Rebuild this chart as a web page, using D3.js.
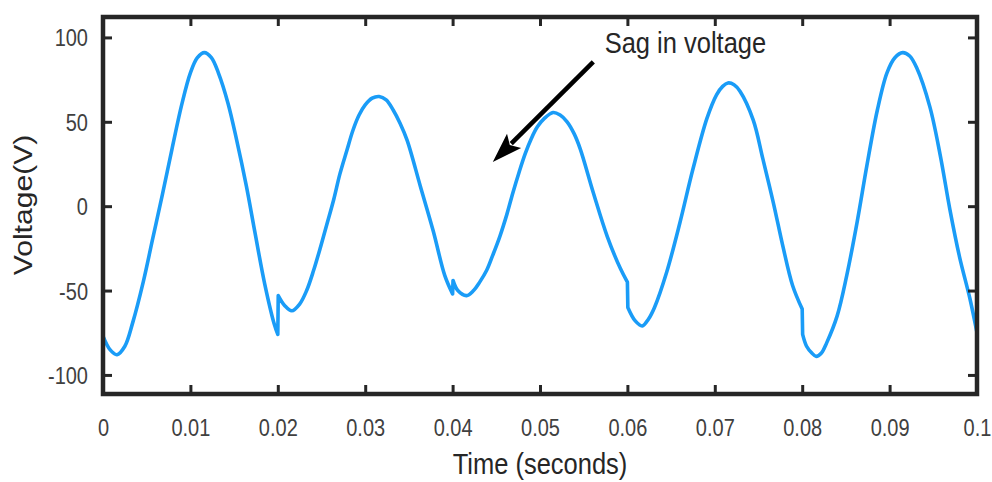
<!DOCTYPE html>
<html>
<head>
<meta charset="utf-8">
<script src="https://cdn.jsdelivr.net/npm/d3@7"></script>
<style>
  html, body { margin: 0; padding: 0; background: #fff; }
  svg { display: block; }
</style>
</head>
<body>
<svg id="chart" width="992" height="482"></svg>
<script>
// ---- data ----
const time = [
  0.0000, 0.0008, 0.0016, 0.0025, 0.0034, 0.0046, 0.0057, 0.0068, 0.0079, 0.0090,
  0.0100, 0.0108, 0.0116, 0.0124, 0.0132, 0.0143, 0.0153, 0.0164, 0.0174, 0.0185,
  0.0196, 0.0200,
  0.02005, 0.0208, 0.0216, 0.0225, 0.0233, 0.0241, 0.0249, 0.0256, 0.0264, 0.0271,
  0.0279, 0.0286, 0.0293, 0.0300, 0.0308, 0.0316, 0.0324, 0.0332, 0.0340, 0.0348,
  0.0363, 0.0378, 0.0391, 0.0400,
  0.04005, 0.0406, 0.0416, 0.0424, 0.0431, 0.0439, 0.0446, 0.0454, 0.0462, 0.0469,
  0.0476, 0.0483, 0.0490, 0.0497, 0.0505, 0.0515, 0.0523, 0.0531, 0.0539, 0.0546,
  0.0561, 0.0577, 0.0592, 0.0600,
  0.06005, 0.0609, 0.0617, 0.0624, 0.0631, 0.0645, 0.0660, 0.0675, 0.0691, 0.0702,
  0.0709, 0.0715, 0.0722, 0.0729, 0.0744, 0.0755, 0.0767, 0.0778, 0.0789, 0.0800,
  0.08005, 0.0805, 0.0811, 0.0816, 0.0822, 0.0828, 0.0840, 0.0851, 0.0863, 0.0874,
  0.0886, 0.0897, 0.0906, 0.0915, 0.0923, 0.0931, 0.0946, 0.0958, 0.0969, 0.0980,
  0.0992, 0.1000
];
const voltage = [
  -77, -85, -88, -83, -69, -45, -19, 7, 34, 60,
  79, 88, 91, 88, 79, 61, 39, 12, -16, -46,
  -70, -76,
  -53, -59, -62, -58, -50, -38, -24, -11, 4, 19,
  33, 45, 54, 60, 64, 65, 63, 57, 49, 39,
  12, -15, -41, -52,
  -44, -50, -53, -50, -45, -38, -29, -18, -5, 8,
  20, 31, 40, 47, 52, 55.5, 54, 50, 43, 34,
  8, -18, -37, -45,
  -60, -68, -71, -67, -60, -39, -10, 22, 52, 66,
  71, 73, 72, 68, 51, 28, 2, -24, -47, -61,
  -76, -83, -87, -89, -87, -81, -65, -41, -9, 24,
  57, 79, 88, 91, 89, 82, 59, 30, -2, -30,
  -55, -75
];
const xTicks = [0, 0.01, 0.02, 0.03, 0.04, 0.05, 0.06, 0.07, 0.08, 0.09, 0.1];
const xTickLabels = ["0", "0.01", "0.02", "0.03", "0.04", "0.05", "0.06", "0.07", "0.08", "0.09", "0.1"];
const yTicks = [-100, -50, 0, 50, 100];
const yTickLabels = ["-100", "-50", "0", "50", "100"];
const xLabel = "Time (seconds)";
const yLabel = "Voltage(V)";
const annotationText = "Sag in voltage";
const annotationTextAt = [0.0574, 90.8];
const arrowFrom = [0.0561, 85.5];
const arrowTo = [0.0446, 26.2];

// ---- layout ----
const svg = d3.select("#chart");
const L = 103, R = 977, T = 17, B = 394;
const x = d3.scaleLinear().domain([0, 0.1]).range([L, R]);
const y = d3.scaleLinear().domain([-111.3, 112.1]).range([B, T]);

const frameColor = "#262626";
const tickTextColor = "#404040";
const font = "'Liberation Sans', Arial, Helvetica, sans-serif";
const kStretch = 1.18;

// line: smooth pieces joined by the abrupt (near-vertical) jumps
const pts = time.map((t, i) => [t, voltage[i]]);
const segments = [];
let cur = [pts[0]];
for (let i = 1; i < pts.length; i++) {
  if (pts[i][0] - pts[i - 1][0] < 0.0001) { segments.push(cur); cur = []; }
  cur.push(pts[i]);
}
segments.push(cur);
const line = d3.line().x(d => x(d[0])).y(d => y(d[1])).curve(d3.curveCatmullRom.alpha(0.5));
const pathD = segments.map((s, i) => {
  const d = line(s);
  return i === 0 ? d : "L" + d.slice(1);
}).join("");
svg.append("path")
  .attr("d", pathD)
  .attr("fill", "none")
  .attr("stroke", "#1a9cf7")
  .attr("stroke-width", 3.6)
  .attr("stroke-linejoin", "round")
  .attr("stroke-linecap", "round");

// axes
function styleAxis(g) {
  g.select(".domain").remove();
  g.selectAll(".tick line").attr("stroke", frameColor).attr("stroke-width", 3);
}
const tickLen = 9;
const gx = svg.append("g").attr("transform", `translate(0,${B})`)
  .call(d3.axisBottom(x).tickValues(xTicks).tickFormat((d, i) => xTickLabels[i]).tickSizeInner(-tickLen).tickSizeOuter(0));
styleAxis(gx);
gx.selectAll(".tick text")
  .attr("y", null).attr("dy", null)
  .attr("transform", `translate(0,42) scale(1,${kStretch})`)
  .attr("font-size", 20).attr("font-family", font).attr("fill", tickTextColor);

const gxt = svg.append("g").attr("transform", `translate(0,${T})`)
  .call(d3.axisTop(x).tickValues(xTicks).tickFormat("").tickSizeInner(-tickLen).tickSizeOuter(0));
styleAxis(gxt);

const gy = svg.append("g").attr("transform", `translate(${L},0)`)
  .call(d3.axisLeft(y).tickValues(yTicks).tickFormat((d, i) => yTickLabels[i]).tickSizeInner(-tickLen).tickSizeOuter(0));
styleAxis(gy);
gy.selectAll(".tick text")
  .attr("x", null).attr("dy", "0.36em")
  .attr("transform", `translate(-15,0) scale(1,${kStretch})`)
  .attr("font-size", 20).attr("font-family", font).attr("fill", tickTextColor);

const gyr = svg.append("g").attr("transform", `translate(${R},0)`)
  .call(d3.axisRight(y).tickValues(yTicks).tickFormat("").tickSizeInner(-tickLen).tickSizeOuter(0));
styleAxis(gyr);

// frame
svg.append("rect")
  .attr("x", L).attr("y", T).attr("width", R - L).attr("height", B - T)
  .attr("fill", "none").attr("stroke", frameColor).attr("stroke-width", 4.5);

// axis labels
svg.append("text")
  .attr("transform", `translate(${(L + R) / 2},474) scale(1,${kStretch})`)
  .attr("text-anchor", "middle")
  .attr("font-size", 25.5).attr("font-family", font).attr("fill", "#262626")
  .text(xLabel);
svg.append("text")
  .attr("transform", `translate(32,205) rotate(-90) scale(${kStretch},1)`)
  .attr("text-anchor", "middle")
  .attr("font-size", 25.5).attr("font-family", font).attr("fill", "#262626")
  .text(yLabel);

// annotation
svg.append("text")
  .attr("transform", `translate(${x(annotationTextAt[0])},${y(annotationTextAt[1])}) scale(1,${kStretch})`)
  .attr("font-size", 25.5).attr("font-family", font).attr("fill", "#262626")
  .text(annotationText);

const x0 = x(arrowFrom[0]), y0 = y(arrowFrom[1]);
const x1 = x(arrowTo[0]), y1 = y(arrowTo[1]);
const ang = Math.atan2(y1 - y0, x1 - x0);
const headLen = 30, headHalf = 10;
const bx = x1 - headLen * Math.cos(ang), by = y1 - headLen * Math.sin(ang);
svg.append("line")
  .attr("x1", x0).attr("y1", y0).attr("x2", bx + 4 * Math.cos(ang)).attr("y2", by + 4 * Math.sin(ang))
  .attr("stroke", "#000").attr("stroke-width", 4.5);
const px = -Math.sin(ang), py = Math.cos(ang);
svg.append("path")
  .attr("d", `M${x1},${y1} L${bx + headHalf * px},${by + headHalf * py} L${bx + 6 * Math.cos(ang)},${by + 6 * Math.sin(ang)} L${bx - headHalf * px},${by - headHalf * py} Z`)
  .attr("fill", "#000");
</script>
</body>
</html>
